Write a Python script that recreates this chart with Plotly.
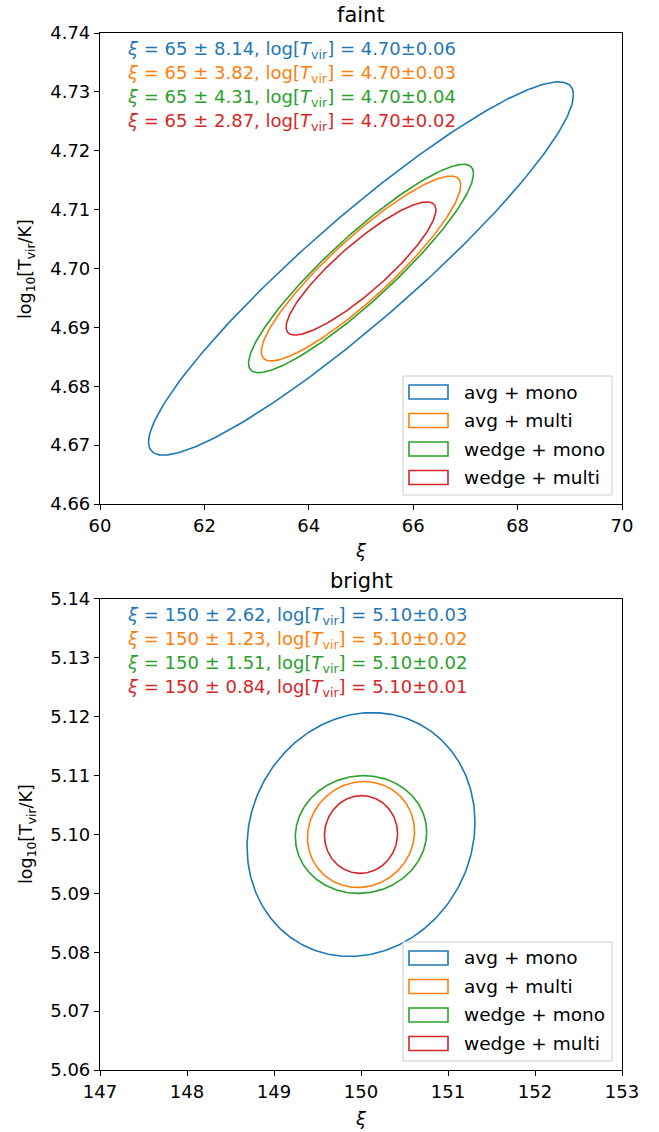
import numpy as np
import plotly.graph_objects as go

# Forecast configurations (shared by both panels)
labels = ["avg + mono", "avg + multi", "wedge + mono", "wedge + multi"]
colors = ["#1f77b4", "#ff7f0e", "#2ca02c", "#d62728"]

# Faint sample: fiducial values, marginal errors and correlation
faint_xi0, faint_logT0 = 65, 4.70
faint_xi_err = [8.14, 3.82, 4.31, 2.87]
faint_logT_err = [0.06, 0.03, 0.04, 0.02]
faint_logT_half = [0.0317, 0.0157, 0.0177, 0.0113]
faint_rho = [0.93, 0.90, 0.91, 0.88]

# Bright sample
bright_xi0, bright_logT0 = 150, 5.10
bright_xi_err = [2.62, 1.23, 1.51, 0.84]
bright_logT_err = [0.03, 0.02, 0.02, 0.01]
bright_logT_half = [0.0207, 0.0090, 0.0100, 0.0066]
bright_rho = [0.10, 0.06, 0.04, 0.02]

faint_xticks = [60, 62, 64, 66, 68, 70]
faint_yticks = [4.66, 4.67, 4.68, 4.69, 4.70, 4.71, 4.72, 4.73, 4.74]
bright_xticks = [147, 148, 149, 150, 151, 152, 153]
bright_yticks = [5.06, 5.07, 5.08, 5.09, 5.10, 5.11, 5.12, 5.13, 5.14]

FONT = "DejaVu Sans"


def ellipse(mx, my, sx, sy, rho, n=300):
    t = np.linspace(0, 2 * np.pi, n)
    x = mx + sx * np.cos(t)
    y = my + sy * (rho * np.cos(t) + np.sqrt(1 - rho ** 2) * np.sin(t))
    return x, y


fig = go.Figure()

panels = [
    dict(name="faint", xi0=faint_xi0, T0=faint_logT0, xerr=faint_xi_err,
         terr=faint_logT_err, thalf=faint_logT_half, rho=faint_rho, xa="x", ya="y"),
    dict(name="bright", xi0=bright_xi0, T0=bright_logT0, xerr=bright_xi_err,
         terr=bright_logT_err, thalf=bright_logT_half, rho=bright_rho, xa="x2", ya="y2"),
]

for p in panels:
    for i in range(4):
        ex, ey = ellipse(p["xi0"], p["T0"], p["xerr"][i] / 2, p["thalf"][i], p["rho"][i])
        fig.add_trace(go.Scatter(
            x=ex, y=ey, mode="lines", line=dict(color=colors[i], width=1.6),
            name=labels[i], xaxis=p["xa"], yaxis=p["ya"], showlegend=False,
            hoverinfo="skip"))

# Plot area geometry (margins in px)
W, H = 659, 1132
ML, MR, MT, MB = 100, 37, 33, 62
PH = 471  # height of each panel in px

axis_style = dict(showline=True, linecolor="black", linewidth=1.2, mirror=True,
                  ticks="outside", ticklen=5, tickwidth=1.2, tickcolor="black",
                  showgrid=False, zeroline=False,
                  tickfont=dict(family=FONT, size=18, color="black"))

fig.update_layout(
    width=W, height=H, margin=dict(l=ML, r=MR, t=MT, b=MB),
    paper_bgcolor="white", plot_bgcolor="white",
    font=dict(family=FONT, color="black"), showlegend=False,
    xaxis=dict(domain=[0, 1], anchor="y", range=[60, 70], tickvals=faint_xticks,
               ticktext=[str(v) for v in faint_xticks], **axis_style),
    yaxis=dict(domain=[0.5458, 1], anchor="x", range=[4.66, 4.74], tickvals=faint_yticks,
               ticktext=["{:.2f}".format(v) for v in faint_yticks], **axis_style),
    xaxis2=dict(domain=[0, 1], anchor="y2", range=[147, 153], tickvals=bright_xticks,
                ticktext=[str(v) for v in bright_xticks], **axis_style),
    yaxis2=dict(domain=[0, 0.4542], anchor="x2", range=[5.06, 5.14], tickvals=bright_yticks,
                ticktext=["{:.2f}".format(v) for v in bright_yticks], **axis_style),
)


def py(ypx):
    return (H - MB - ypx) / (H - MT - MB)


def dx(xpx):
    return (xpx - ML) / (W - ML - MR)


annotations = []
shapes = []
for p, title_px, ytitle_px, xtitle_px, suffix in [
        (panels[0], 15, 269, 550, ""), (panels[1], 581, 834, 1118, "2")]:
    xd, yd = "x%s domain" % suffix, "y%s domain" % suffix
    annotations.append(dict(text=p["name"], xref="paper", yref="paper", x=0.5, y=py(title_px),
                            showarrow=False, font=dict(family=FONT, size=21, color="black"),
                            xanchor="center", yanchor="middle"))
    annotations.append(dict(text="log<sub>10</sub>[T<sub>vir</sub>/K]", xref="paper", yref="paper",
                            x=dx(27), y=py(ytitle_px), textangle=-90,
                            showarrow=False, font=dict(family=FONT, size=17.5, color="black"),
                            xanchor="center", yanchor="middle"))
    annotations.append(dict(text="<i>ξ</i>", xref="paper", yref="paper", x=0.5, y=py(xtitle_px),
                            showarrow=False, font=dict(family=FONT, size=18, color="black"),
                            xanchor="center", yanchor="middle"))
    for i in range(4):
        txt = ("<i>ξ</i> = {} ± {:.2f}, log[<i>T</i><sub>vir</sub>] = {:.2f}±{:.2f}"
               .format(p["xi0"], p["xerr"][i], p["T0"], p["terr"][i]))
        annotations.append(dict(text=txt, xref=xd, yref=yd, x=0.048, y=(PH - 17 - 24 * i) / PH,
                                showarrow=False, xanchor="left", yanchor="middle",
                                font=dict(family=FONT, size=18, color=colors[i])))

    # legend box with outlined patches, lower right of the panel
    shapes.append(dict(type="rect", xref=xd, yref=yd, x0=dx(403), x1=dx(612),
                       y0=9 / PH, y1=128 / PH, line=dict(color="#cccccc", width=1),
                       fillcolor="rgba(255,255,255,0.8)", layer="above"))
    for i in range(4):
        yc = (112 - 28.5 * i) / PH
        shapes.append(dict(type="rect", xref=xd, yref=yd, x0=dx(409), x1=dx(448),
                           y0=yc - 7 / PH, y1=yc + 7 / PH, line=dict(color=colors[i], width=1.6),
                           fillcolor="rgba(0,0,0,0)", layer="above"))
        annotations.append(dict(text=labels[i], xref=xd, yref=yd, x=dx(462), y=yc,
                                showarrow=False, xanchor="left", yanchor="middle",
                                font=dict(family=FONT, size=18.5, color="black")))

fig.update_layout(annotations=annotations, shapes=shapes)

fig.write_html("out.html")
